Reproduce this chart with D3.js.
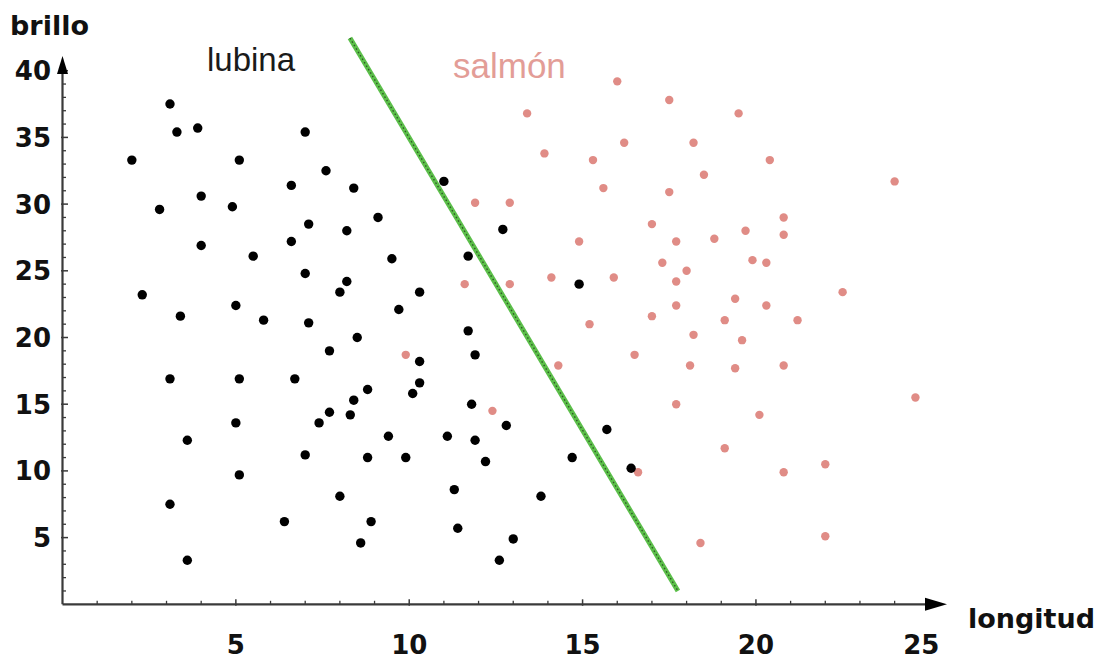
<!DOCTYPE html>
<html>
<head>
<meta charset="utf-8">
<script src="https://cdn.jsdelivr.net/npm/d3@7"></script>
<style>
  html, body { margin: 0; padding: 0; background: #fff; }
  svg { display: block; }
</style>
</head>
<body>
<svg id="chart" width="1104" height="661"></svg>
<script>
// ---- data ----
const xTicks = [5, 10, 15, 20, 25];
const yTicks = [5, 10, 15, 20, 25, 30, 35, 40];
const xMinorTicks = d3.range(1, 25);
const yMinorTicks = d3.range(1, 40);

// lubina (black) points: [longitud, brillo]
const lubina = [
  [2.0,33.3],[3.1,37.5],[3.3,35.4],[3.9,35.7],[4.0,30.6],[2.8,29.6],[5.1,33.3],[4.9,29.8],
  [4.0,26.9],[7.0,35.4],[7.6,32.5],[6.6,31.4],[8.4,31.2],[7.1,28.5],[8.2,28.0],[6.6,27.2],
  [5.5,26.1],[2.3,23.2],[7.0,24.8],[8.2,24.2],[8.0,23.4],[5.0,22.4],[3.4,21.6],[5.8,21.3],
  [7.1,21.1],[8.5,20.0],[7.7,19.0],[3.1,16.9],[5.1,16.9],[6.7,16.9],[8.8,16.1],[8.4,15.3],
  [7.7,14.4],[8.3,14.2],[7.4,13.6],[5.0,13.6],[3.6,12.3],[7.0,11.2],[8.8,11.0],[5.1,9.7],
  [3.1,7.5],[6.4,6.2],[8.0,8.1],[8.6,4.6],[3.6,3.3],[8.9,6.2],[9.1,29.0],[11.0,31.7],
  [12.7,28.1],[9.5,25.9],[11.7,26.1],[10.3,23.4],[9.7,22.1],[14.9,24.0],[11.7,20.5],[11.9,18.7],
  [10.3,18.2],[10.3,16.6],[10.1,15.8],[11.8,15.0],[9.4,12.6],[11.1,12.6],[11.9,12.3],[12.8,13.4],
  [15.7,13.1],[9.9,11.0],[12.2,10.7],[14.7,11.0],[16.4,10.2],[11.3,8.6],[13.8,8.1],[11.4,5.7],
  [13.0,4.9],[12.6,3.3]
];

// salmón (pink) points: [longitud, brillo]
const salmon = [
  [16.0,39.2],[17.5,37.8],[13.4,36.8],[19.5,36.8],[16.2,34.6],[18.2,34.6],[13.9,33.8],[15.3,33.3],
  [20.4,33.3],[18.5,32.2],[24.0,31.7],[15.6,31.2],[17.5,30.9],[11.9,30.1],[12.9,30.1],[20.8,29.0],
  [17.0,28.5],[19.7,28.0],[20.8,27.7],[14.9,27.2],[17.7,27.2],[18.8,27.4],[19.9,25.8],[20.3,25.6],
  [17.3,25.6],[18.0,25.0],[17.7,24.2],[11.6,24.0],[12.9,24.0],[14.1,24.5],[15.9,24.5],[22.5,23.4],
  [19.4,22.9],[17.7,22.4],[20.3,22.4],[17.0,21.6],[19.1,21.3],[21.2,21.3],[15.2,21.0],[18.2,20.2],
  [19.6,19.8],[9.9,18.7],[16.5,18.7],[14.3,17.9],[18.1,17.9],[19.4,17.7],[20.8,17.9],[24.6,15.5],
  [17.7,15.0],[12.4,14.5],[20.1,14.2],[19.1,11.7],[16.6,9.9],[20.8,9.9],[22.0,10.5],[18.4,4.6],
  [22.0,5.1]
];

// decision boundary endpoints [longitud, brillo]
const boundary = [[8.29, 42.45], [17.75, 1.0]];

const labels = { x: "longitud", y: "brillo", a: "lubina", b: "salmón" };

// ---- layout ----
const svg = d3.select("#chart");
const x = d3.scaleLinear().domain([0, 25]).range([62.5, 929.3]);
const y = d3.scaleLinear().domain([0, 40]).range([604.3, 70.7]);
const axisColor = "#3a3a3a";
const tickFont = "'DejaVu Sans', Verdana, sans-serif";

// minor ticks
const gx = svg.append("g");
gx.selectAll("line.minor").data(xMinorTicks.filter(d => d % 5 !== 0)).join("line")
  .attr("x1", d => x(d)).attr("x2", d => x(d))
  .attr("y1", y(0) - 3.5).attr("y2", y(0))
  .attr("stroke", axisColor).attr("stroke-width", 1.3);
gx.selectAll("line.major").data(xTicks.filter(d => d < 25)).join("line")
  .attr("x1", d => x(d)).attr("x2", d => x(d))
  .attr("y1", y(0) - 5).attr("y2", y(0) + 1.5)
  .attr("stroke", axisColor).attr("stroke-width", 1.5);

const gy = svg.append("g");
gy.selectAll("line.minor").data(yMinorTicks.filter(d => d % 5 !== 0)).join("line")
  .attr("x1", x(0)).attr("x2", x(0) + 3.5)
  .attr("y1", d => y(d)).attr("y2", d => y(d))
  .attr("stroke", axisColor).attr("stroke-width", 1.3);
gy.selectAll("line.major").data(yTicks).join("line")
  .attr("x1", x(0) - 1.5).attr("x2", x(0) + 5.5)
  .attr("y1", d => y(d)).attr("y2", d => y(d))
  .attr("stroke", axisColor).attr("stroke-width", 1.5);

// axis lines
svg.append("line").attr("x1", x(0)).attr("x2", 930).attr("y1", y(0)).attr("y2", y(0))
  .attr("stroke", axisColor).attr("stroke-width", 2.2);
svg.append("line").attr("x1", x(0)).attr("x2", x(0)).attr("y1", y(0)).attr("y2", 70)
  .attr("stroke", axisColor).attr("stroke-width", 2.2);
// arrowheads
svg.append("path")
  .attr("d", `M${925},${y(0) - 6.5} L${947},${y(0)} L${925},${y(0) + 6.5} Z`)
  .attr("fill", "#000");
svg.append("path")
  .attr("d", `M${x(0) - 5.5},${74} L${x(0)},${56} L${x(0) + 5.5},${74} Z`)
  .attr("fill", "#000");

// tick labels
svg.append("g").selectAll("text").data(xTicks).join("text")
  .attr("x", d => x(d) - (d === 25 ? 8 : 0))
  .attr("y", 654)
  .attr("text-anchor", "middle")
  .attr("font-family", tickFont).attr("font-weight", "bold").attr("font-size", 26)
  .attr("fill", "#111")
  .text(d => d);
svg.append("g").selectAll("text").data(yTicks).join("text")
  .attr("x", 51)
  .attr("y", d => y(d) + 9.5)
  .attr("text-anchor", "end")
  .attr("font-family", tickFont).attr("font-weight", "bold").attr("font-size", 26)
  .attr("fill", "#111")
  .text(d => d);

// axis titles
svg.append("text").attr("x", 10).attr("y", 35)
  .attr("font-family", tickFont).attr("font-weight", "bold").attr("font-size", 27)
  .attr("fill", "#111").text(labels.y);
svg.append("text").attr("x", 968).attr("y", 628)
  .attr("font-family", tickFont).attr("font-weight", "bold").attr("font-size", 27)
  .attr("fill", "#111").text(labels.x);

// class labels
svg.append("text").attr("x", 207).attr("y", 71)
  .attr("font-family", "'Liberation Sans', Arial, sans-serif").attr("font-size", 33)
  .attr("fill", "#1a1a1a").text(labels.a);
svg.append("text").attr("x", 453).attr("y", 78)
  .attr("font-family", "'Liberation Sans', Arial, sans-serif").attr("font-size", 35)
  .attr("fill", "#e39d97").text(labels.b);

// boundary line
svg.append("line")
  .attr("x1", x(boundary[0][0])).attr("y1", y(boundary[0][1]))
  .attr("x2", x(boundary[1][0])).attr("y2", y(boundary[1][1]))
  .attr("stroke", "#5cbf4a").attr("stroke-width", 5).attr("stroke-linecap", "butt");
svg.append("line")
  .attr("x1", x(boundary[0][0])).attr("y1", y(boundary[0][1]))
  .attr("x2", x(boundary[1][0])).attr("y2", y(boundary[1][1]))
  .attr("stroke", "#2d5a25").attr("stroke-width", 1.4).attr("stroke-dasharray", "1.5,2.5");

// points
svg.append("g").selectAll("circle").data(salmon).join("circle")
  .attr("cx", d => x(d[0])).attr("cy", d => y(d[1])).attr("r", 4.2)
  .attr("fill", "#e08c86");
svg.append("g").selectAll("circle").data(lubina).join("circle")
  .attr("cx", d => x(d[0])).attr("cy", d => y(d[1])).attr("r", 4.7)
  .attr("fill", "#000");
</script>
</body>
</html>
